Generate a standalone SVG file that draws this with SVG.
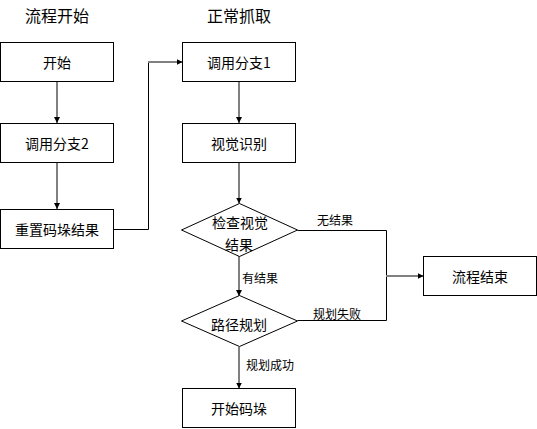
<svg xmlns="http://www.w3.org/2000/svg" width="537" height="429" viewBox="0 0 537 429">
<defs>
<marker id="ah" markerWidth="6" markerHeight="6" refX="6" refY="3" orient="auto" markerUnits="userSpaceOnUse">
<path d="M0,0 L6,3 L0,6 Z" fill="#000"/>
</marker>
<style>
.n{fill:#fff;stroke:#000;stroke-width:1}
.t{font-family:"Noto Sans CJK SC","Noto Sans",sans-serif;font-size:14px;fill:#000;text-anchor:middle;dominant-baseline:central}
.h{font-family:"Noto Sans CJK SC","Noto Sans",sans-serif;font-size:16px;fill:#000;text-anchor:middle;dominant-baseline:central}
.l{font-family:"Noto Sans CJK SC","Noto Sans",sans-serif;font-size:12px;fill:#000;dominant-baseline:central}
.a{fill:none;stroke:#808080;stroke-width:2;marker-end:url(#ah)}
.b{fill:none;stroke:#000;stroke-width:1}
</style>
</defs>
<rect width="537" height="429" fill="#fff"/>
<g id="titles">
<text class="h" x="57" y="15">流程开始</text>
<text class="h" x="239" y="15">正常抓取</text>
</g>
<g id="connectors">
<line class="a" x1="57" y1="82" x2="57" y2="123"/>
<line class="a" x1="57" y1="163" x2="57" y2="209"/>
<polyline class="b" points="113.5,229.5 148.5,229.5 148.5,62"/>
<line class="a" x1="148" y1="62" x2="182.5" y2="62"/>
<line class="a" x1="239" y1="82" x2="239" y2="123"/>
<line class="a" x1="239" y1="163" x2="239" y2="203.5"/>
<polyline class="b" points="297.5,230.5 386.5,230.5 386.5,320.5 297.5,320.5"/>
<line class="a" x1="386" y1="276" x2="423.5" y2="276"/>
<line class="a" x1="239" y1="256" x2="239" y2="296"/>
<line class="a" x1="239" y1="347" x2="239" y2="388.5"/>
<text class="l" x="317" y="219">无结果</text>
<text class="l" x="313" y="313">规划失败</text>
<text class="l" x="242" y="277">有结果</text>
<text class="l" x="246" y="364">规划成功</text>
</g>
<g id="n_start">
<rect class="n" x="0.5" y="42.5" width="113" height="39"/>
<text class="t" x="57" y="62">开始</text>
</g>
<g id="n_call2">
<rect class="n" x="0.5" y="123.5" width="113" height="39"/>
<text class="t" x="57" y="143">调用分支2</text>
</g>
<g id="n_reset">
<rect class="n" x="0.5" y="209.5" width="113" height="39"/>
<text class="t" x="57" y="229">重置码垛结果</text>
</g>
<g id="n_call1">
<rect class="n" x="182.5" y="42.5" width="113" height="39"/>
<text class="t" x="239" y="62">调用分支1</text>
</g>
<g id="n_vision">
<rect class="n" x="182.5" y="123.5" width="113" height="39"/>
<text class="t" x="239" y="143">视觉识别</text>
</g>
<g id="n_check">
<polygon class="n" points="239.5,203.5 297.5,230 239.5,256.5 181.5,230"/>
<text class="t" x="240" y="222">检查视觉</text>
<text class="t" x="239" y="244">结果</text>
</g>
<g id="n_path">
<polygon class="n" points="239.5,295.5 297.5,321 239.5,346.5 181.5,321"/>
<text class="t" x="239" y="324">路径规划</text>
</g>
<g id="n_end">
<rect class="n" x="423.5" y="256.5" width="113" height="39"/>
<text class="t" x="480" y="276">流程结束</text>
</g>
<g id="n_stack">
<rect class="n" x="182.5" y="388.5" width="113" height="39"/>
<text class="t" x="239" y="408">开始码垛</text>
</g>
</svg>
